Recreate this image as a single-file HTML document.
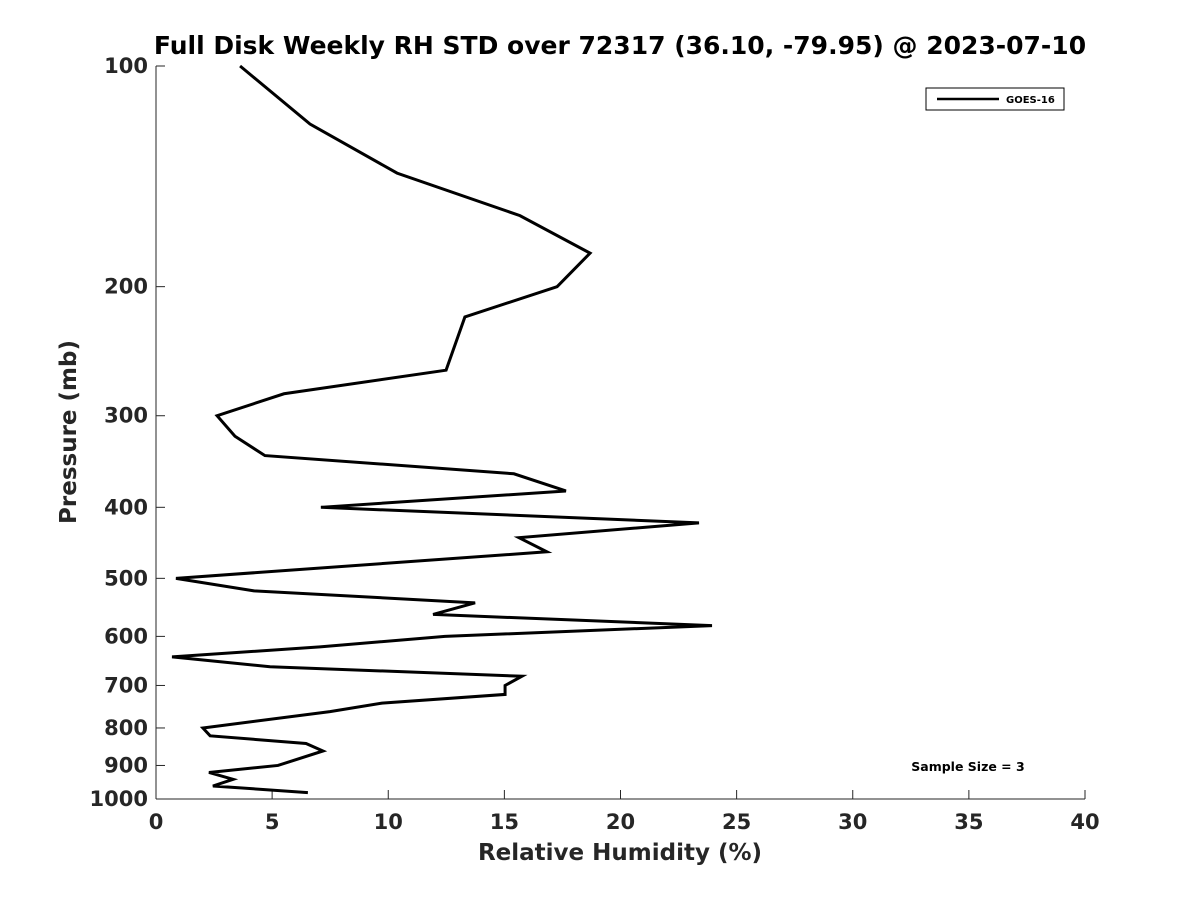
<!DOCTYPE html>
<html><head><meta charset="utf-8"><style>
body{margin:0;background:#fff}
svg text{font-family:"DejaVu Sans","Liberation Sans",sans-serif;font-weight:bold;fill:#262626}
</style></head><body>
<svg id="c" width="1200" height="900">
<text x="620" y="54" text-anchor="middle" font-size="25" style="fill:#000">Full Disk Weekly RH STD over 72317 (36.10, -79.95) @ 2023-07-10</text>
<g id="axes"></g>
<text x="620" y="860" text-anchor="middle" font-size="23">Relative Humidity (%)</text>
<text transform="translate(76,432) rotate(-90)" text-anchor="middle" font-size="23">Pressure (mb)</text>
<g>
<rect x="926" y="88" width="138" height="22" fill="#fff" stroke="#000" stroke-width="1"/>
<line x1="937" y1="99" x2="999" y2="99" stroke="#000" stroke-width="2.5"/>
<text x="1006" y="103" font-size="10" style="fill:#000">GOES-16</text>
</g>
<text x="968" y="771" text-anchor="middle" font-size="12.5" style="fill:#000">Sample Size = 3</text>
</svg>
<script>
const xTicks=[0,5,10,15,20,25,30,35,40];
const yTicks=[100,200,300,400,500,600,700,800,900,1000];
const rh=[3.62,6.63,10.38,15.67,18.69,17.27,13.3,12.49,5.51,2.63,3.40,4.69,15.41,17.65,7.1,23.38,15.63,16.83,0.86,4.22,13.74,11.93,23.94,12.44,7.06,0.69,4.91,15.76,15.03,15.03,9.73,7.49,2.02,2.33,6.46,7.19,5.25,2.28,3.32,2.45,6.54];
const pres=[100,120,140,160,180,200,220,260,280,300,320,340,360,380,400,420,440,460,500,520,540,560,580,600,620,640,660,680,700,720,740,760,800,820,840,860,900,920,940,960,980];
const X0=156,X1=1085,Y0=66,Y1=799;
const sx=v=>X0+(v-0)/(40-0)*(X1-X0);
const sy=p=>Y0+Math.log10(p/100)/Math.log10(10)*(Y1-Y0);
const NS='http://www.w3.org/2000/svg';
const svg=document.getElementById('c');
const ax=document.getElementById('axes');
function mk(t,a){const e=document.createElementNS(NS,t);for(const k in a)e.setAttribute(k,a[k]);return e;}
let l=mk('line',{x1:X0,y1:Y1,x2:X1,y2:Y1,stroke:'#262626','stroke-width':1});


ax.appendChild(l);
l=mk('line',{x1:X0,y1:Y0,x2:X0,y2:Y1,stroke:'#262626','stroke-width':1});


ax.appendChild(l);
xTicks.forEach(v=>{
 const t=mk('line',{x1:sx(v),y1:Y1,x2:sx(v),y2:Y1-9,stroke:'#262626'});
 
 
 ax.appendChild(t);
 const tx=mk('text',{x:sx(v),y:Y1+30,'text-anchor':'middle','font-size':21});
 tx.textContent=v;
 
 
 ax.appendChild(tx);
});
yTicks.forEach(v=>{
 const t=mk('line',{x1:X0,y1:sy(v),x2:X0+9,y2:sy(v),stroke:'#262626'});
 
 
 ax.appendChild(t);
 const tx=mk('text',{x:X0-8,y:sy(v)+7,'text-anchor':'end','font-size':21});
 tx.textContent=v;
 
 
 ax.appendChild(tx);
});
const pts=rh.map((v,i)=>sx(v)+','+sy(pres[i])).join(' ');
const pl=mk('polyline',{points:pts,fill:'none',stroke:'#000','stroke-width':3,'stroke-linejoin':'miter'});


svg.appendChild(pl);
</script>
</body></html>
